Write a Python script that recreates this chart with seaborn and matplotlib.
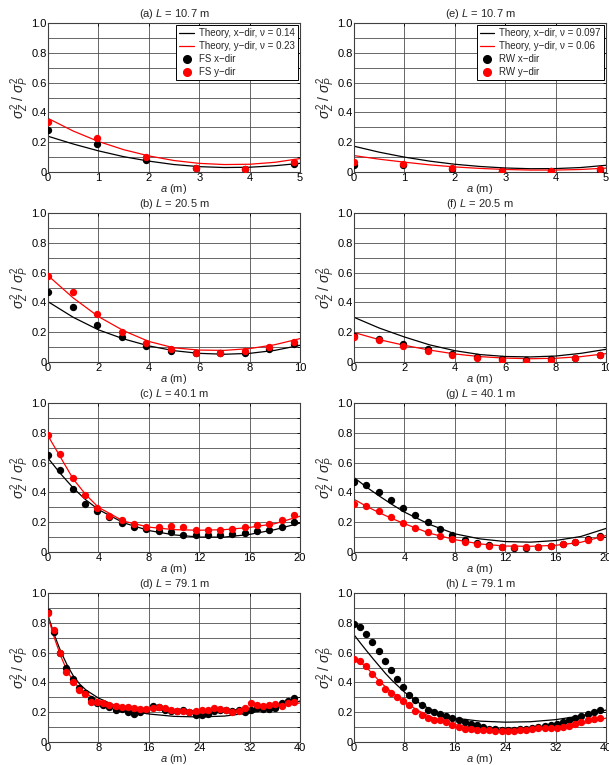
import numpy as np
import pandas as pd
import matplotlib
matplotlib.use('Agg')
import matplotlib.pyplot as plt
import seaborn as sns
from matplotlib.lines import Line2D

# ---------------- data ----------------
lag = [0, 0.98, 1.95, 2.93, 3.9, 4.88, 5.86, 6.83, 7.81, 8.78, 9.76, 10.74, 11.71,
       12.69, 13.66, 14.64, 15.62, 16.59, 17.57, 18.54, 19.52, 20.5, 21.47, 22.45,
       23.42, 24.4, 25.38, 26.35, 27.33, 28.3, 29.28, 30.26, 31.23, 32.21, 33.18,
       34.16, 35.14, 36.11, 37.09, 38.06, 39.04]

titles = ['(a) $L$ = 10.7 m', '(b) $L$ = 20.5 m', '(c) $L$ = 40.1 m', '(d) $L$ = 79.1 m',
          '(e) $L$ = 10.7 m', '(f) $L$ = 20.5 m', '(g) $L$ = 40.1 m', '(h) $L$ = 79.1 m']

xmax = [5, 10, 20, 40]
xticks = [[0, 1, 2, 3, 4, 5], [0, 2, 4, 6, 8, 10], [0, 4, 8, 12, 16, 20], [0, 8, 16, 24, 32, 40]]
yticks = [0, 0.2, 0.4, 0.6, 0.8, 1.0]
ytick_labels = ['0', '0.2', '0.4', '0.6', '0.8', '1.0']

# FS (left column) measured points
fs_x_a = [0.285, 0.19, 0.083, 0.027, 0.02, 0.056]
fs_y_a = [0.335, 0.23, 0.10, 0.03, 0.02, 0.07]
fs_x_b = [0.47, 0.37, 0.247, 0.166, 0.108, 0.076, 0.063, 0.058, 0.063, 0.085, 0.12]
fs_y_b = [0.58, 0.47, 0.32, 0.20, 0.126, 0.085, 0.063, 0.063, 0.072, 0.10, 0.137]
fs_x_c = [0.65, 0.55, 0.42, 0.325, 0.275, 0.235, 0.196, 0.167, 0.155, 0.144, 0.135,
          0.117, 0.117, 0.115, 0.117, 0.12, 0.13, 0.14, 0.15, 0.17, 0.20]
fs_y_c = [0.785, 0.66, 0.50, 0.383, 0.295, 0.24, 0.216, 0.187, 0.17, 0.17, 0.175,
          0.17, 0.15, 0.145, 0.147, 0.153, 0.167, 0.178, 0.19, 0.216, 0.248]
fs_x_d = [0.872, 0.74, 0.597, 0.50, 0.42, 0.36, 0.33, 0.286, 0.265, 0.248, 0.234,
          0.218, 0.223, 0.203, 0.19, 0.203, 0.216, 0.24, 0.235, 0.218, 0.21, 0.21,
          0.214, 0.20, 0.182, 0.18, 0.19, 0.21, 0.214, 0.218, 0.21, 0.214, 0.203,
          0.218, 0.23, 0.223, 0.223, 0.23, 0.263, 0.275, 0.297]
fs_y_d = [0.865, 0.755, 0.597, 0.47, 0.40, 0.347, 0.325, 0.27, 0.268, 0.263, 0.25,
          0.24, 0.238, 0.232, 0.227, 0.223, 0.223, 0.23, 0.238, 0.23, 0.214, 0.207,
          0.207, 0.20, 0.21, 0.212, 0.218, 0.225, 0.223, 0.214, 0.20, 0.207, 0.23,
          0.259, 0.245, 0.243, 0.245, 0.257, 0.24, 0.259, 0.27]

# RW (right column) measured points
rw_x_e = [0.05, 0.045, 0.022, 0.01, 0.007, 0.015]
rw_y_e = [0.067, 0.056, 0.027, 0.009, 0.007, 0.018]
rw_x_f = [0.175, 0.157, 0.12, 0.085, 0.056, 0.034, 0.02, 0.013, 0.018, 0.027, 0.05]
rw_y_f = [0.168, 0.148, 0.11, 0.076, 0.05, 0.027, 0.016, 0.009, 0.013, 0.027, 0.045]
rw_x_g = [0.47, 0.448, 0.403, 0.35, 0.297, 0.248, 0.20, 0.153, 0.113, 0.083, 0.061,
          0.045, 0.032, 0.027, 0.029, 0.034, 0.043, 0.054, 0.07, 0.09, 0.11]
rw_y_g = [0.324, 0.306, 0.272, 0.234, 0.196, 0.162, 0.135, 0.11, 0.088, 0.068, 0.054,
          0.043, 0.036, 0.034, 0.034, 0.036, 0.043, 0.054, 0.068, 0.083, 0.10]
rw_x_h = [0.793, 0.77, 0.725, 0.669, 0.61, 0.545, 0.48, 0.42, 0.37, 0.318, 0.28,
          0.245, 0.218, 0.20, 0.187, 0.173, 0.16, 0.146, 0.135, 0.124, 0.113, 0.10,
          0.09, 0.088, 0.083, 0.083, 0.083, 0.088, 0.09, 0.097, 0.104, 0.11, 0.115,
          0.122, 0.133, 0.146, 0.16, 0.176, 0.19, 0.20, 0.216]
rw_y_h = [0.56, 0.545, 0.51, 0.455, 0.40, 0.353, 0.327, 0.302, 0.275, 0.245, 0.21,
          0.178, 0.162, 0.151, 0.146, 0.133, 0.117, 0.10, 0.088, 0.088, 0.083, 0.081,
          0.079, 0.077, 0.075, 0.075, 0.077, 0.079, 0.083, 0.088, 0.092, 0.092, 0.092,
          0.095, 0.10, 0.11, 0.124, 0.135, 0.146, 0.155, 0.162]

# Theory curves
th_pos_1 = [0, 0.5, 1, 1.5, 2, 2.5, 3, 3.5, 4, 4.5, 5]
th_x_a = [0.24, 0.188, 0.142, 0.103, 0.073, 0.05, 0.036, 0.03, 0.032, 0.042, 0.058]
th_y_a = [0.36, 0.275, 0.205, 0.15, 0.108, 0.077, 0.058, 0.05, 0.052, 0.065, 0.09]
th_x_e = [0.173, 0.133, 0.10, 0.073, 0.052, 0.037, 0.027, 0.022, 0.023, 0.03, 0.045]
th_y_e = [0.11, 0.086, 0.066, 0.048, 0.034, 0.024, 0.017, 0.013, 0.013, 0.017, 0.026]

th_pos_2 = [0, 1, 2, 3, 4, 5, 6, 7, 8, 9, 10]
th_x_b = [0.405, 0.30, 0.216, 0.155, 0.108, 0.076, 0.058, 0.052, 0.058, 0.078, 0.112]
th_y_b = [0.58, 0.43, 0.305, 0.21, 0.138, 0.095, 0.08, 0.078, 0.09, 0.116, 0.157]
th_x_f = [0.30, 0.228, 0.168, 0.115, 0.076, 0.05, 0.037, 0.034, 0.04, 0.058, 0.085]
th_y_f = [0.198, 0.15, 0.112, 0.08, 0.054, 0.036, 0.026, 0.022, 0.025, 0.036, 0.056]

th_pos_3 = [0, 1, 2, 3, 4, 6, 8, 10, 12, 14, 16, 18, 20]
th_x_c = [0.63, 0.525, 0.43, 0.35, 0.285, 0.196, 0.144, 0.115, 0.10, 0.10, 0.118, 0.15, 0.194]
th_y_c = [0.78, 0.635, 0.49, 0.385, 0.30, 0.207, 0.167, 0.15, 0.146, 0.15, 0.165, 0.19, 0.24]
th_x_g = [0.50, 0.435, 0.376, 0.32, 0.268, 0.185, 0.122, 0.088, 0.07, 0.066, 0.077, 0.104, 0.158]
th_y_g = [0.354, 0.306, 0.264, 0.225, 0.19, 0.126, 0.083, 0.054, 0.04, 0.038, 0.045, 0.065, 0.11]

th_pos_4 = [0, 1, 2, 3, 4, 5, 6, 8, 10, 12, 14, 16, 20, 24, 28, 32, 36, 40]
th_x_d = [0.85, 0.72, 0.61, 0.52, 0.445, 0.39, 0.35, 0.295, 0.257, 0.225, 0.203, 0.188,
          0.172, 0.168, 0.174, 0.195, 0.228, 0.275]
th_y_d = [0.84, 0.70, 0.58, 0.48, 0.41, 0.36, 0.325, 0.28, 0.252, 0.234, 0.223, 0.218,
          0.212, 0.211, 0.213, 0.222, 0.238, 0.262]
th_x_h = [0.72, 0.665, 0.612, 0.56, 0.51, 0.46, 0.415, 0.335, 0.27, 0.222, 0.185, 0.16,
          0.14, 0.133, 0.136, 0.15, 0.175, 0.214]
th_y_h = [0.57, 0.535, 0.50, 0.455, 0.41, 0.37, 0.335, 0.27, 0.215, 0.172, 0.14, 0.117,
          0.091, 0.08, 0.082, 0.095, 0.12, 0.16]

legend_left = ['Theory, x\u2212dir, \u03bd = 0.14', 'Theory, y\u2212dir, \u03bd = 0.23',
               'FS x\u2212dir', 'FS y\u2212dir']
legend_right = ['Theory, x\u2212dir, \u03bd = 0.097', 'Theory, y\u2212dir, \u03bd = 0.06',
                'RW x\u2212dir', 'RW y\u2212dir']

# ---------------- figure ----------------
sns.set_theme(style='white')
plt.rcParams['font.family'] = ['Liberation Sans', 'DejaVu Sans']
plt.rcParams['mathtext.fontset'] = 'custom'
plt.rcParams['mathtext.rm'] = 'Liberation Sans'
plt.rcParams['mathtext.it'] = 'Liberation Sans:italic'
plt.rcParams['mathtext.bf'] = 'Liberation Sans:bold'

fig = plt.figure(figsize=(6.09, 7.65), dpi=100)

W = 609.0
H = 765.0
col_left = [48 / W, 354 / W]
ax_w = 252 / W
row_top = [23, 213, 403, 593]
ax_h = 149 / H

panels = [
    (th_pos_1, th_x_a, th_y_a, fs_x_a, fs_y_a),
    (th_pos_2, th_x_b, th_y_b, fs_x_b, fs_y_b),
    (th_pos_3, th_x_c, th_y_c, fs_x_c, fs_y_c),
    (th_pos_4, th_x_d, th_y_d, fs_x_d, fs_y_d),
    (th_pos_1, th_x_e, th_y_e, rw_x_e, rw_y_e),
    (th_pos_2, th_x_f, th_y_f, rw_x_f, rw_y_f),
    (th_pos_3, th_x_g, th_y_g, rw_x_g, rw_y_g),
    (th_pos_4, th_x_h, th_y_h, rw_x_h, rw_y_h),
]

fs = 8
for k, (tpos, tbx, tby, px, py) in enumerate(panels):
    col = k // 4
    row = k % 4
    bottom = 1 - (row_top[row] + 149) / H
    ax = fig.add_axes([col_left[col], bottom, ax_w, ax_h])

    n = len(px)
    sns.lineplot(x=tpos, y=tbx, color='black', linewidth=0.9, ax=ax, zorder=2)
    sns.lineplot(x=tpos, y=tby, color='#ff0000', linewidth=0.9, ax=ax, zorder=2)
    sns.scatterplot(x=lag[:n], y=px, color='black', s=28, linewidth=0, ax=ax, zorder=3)
    sns.scatterplot(x=lag[:n], y=py, color='#ff0000', s=28, linewidth=0, ax=ax, zorder=4)

    ax.set_xlim(0, xmax[row])
    ax.set_ylim(0, 1.0)
    ax.set_xticks(xticks[row])
    ax.set_xticklabels([str(v) for v in xticks[row]], fontsize=fs)
    ax.set_yticks(yticks)
    ax.set_yticklabels(ytick_labels, fontsize=fs)
    ax.set_yticks([0.1, 0.3, 0.5, 0.7, 0.9], minor=True)
    ax.grid(True, which='major', axis='both', color='0.3', linewidth=0.6)
    ax.grid(True, which='minor', axis='y', color='0.3', linewidth=0.6)
    ax.set_axisbelow(True)
    ax.tick_params(axis='both', which='both', direction='in', length=2.5, width=0.6,
                   pad=1.0, colors='black', top=True, right=True)
    for s in ax.spines.values():
        s.set_color('0.25')
        s.set_linewidth(0.8)

    ax.set_title(titles[k], fontsize=fs, pad=4)
    ax.set_xlabel('$a$ (m)', fontsize=fs, labelpad=-1)
    ax.set_ylabel(r'$\sigma_Z^2\ /\ \sigma_P^2$', fontsize=10, labelpad=0)

    if row == 0:
        labels = legend_left if col == 0 else legend_right
        handles = [Line2D([], [], color='black', lw=0.9),
                   Line2D([], [], color='#ff0000', lw=0.9),
                   Line2D([], [], color='black', marker='o', ls='', markersize=5.5),
                   Line2D([], [], color='#ff0000', marker='o', ls='', markersize=5.5)]
        leg = ax.legend(handles, labels, loc='upper right', fontsize=7, frameon=True,
                        fancybox=False, borderaxespad=0.25, handlelength=1.5,
                        handletextpad=0.5, borderpad=0.3, labelspacing=0.3)
        leg.get_frame().set_edgecolor('black')
        leg.get_frame().set_linewidth(0.7)
        leg.get_frame().set_facecolor('white')
        leg.get_frame().set_alpha(1)
        leg.set_zorder(10)

fig.savefig('out.png', dpi=100)
